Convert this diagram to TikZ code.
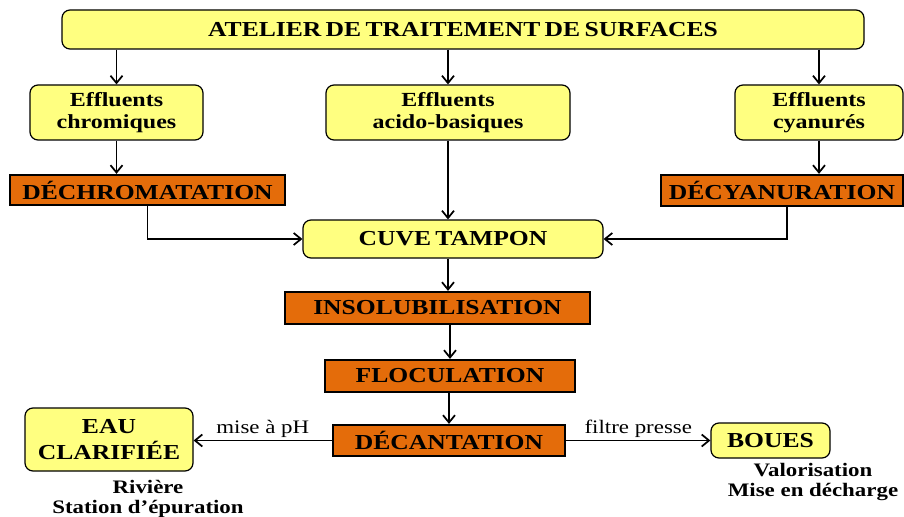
\documentclass[tikz,border=0pt]{standalone}
\usepackage{fontspec}
\setmainfont{Liberation Serif}[FakeStretch=1.2, Ligatures={TeX,NoCommon}]
\usepackage{xcolor}
\usepackage{tikz}
\usetikzlibrary{arrows.meta,positioning,calc}

\definecolor{jaune}{HTML}{FFFF80}
\definecolor{orange}{HTML}{E46C0A}

\newcommand{\grand}{\bfseries\fontsize{16}{19}\selectfont\spaceskip=.2em\relax}
\newcommand{\petit}{\bfseries\fontsize{15}{17}\selectfont}

\tikzset{
  jbox/.style={draw, rounded corners=6pt, fill=jaune, line width=0.9pt, inner sep=0pt, align=center, font=\petit},
  obox/.style={draw, fill=orange, line width=1.7pt, inner sep=0pt, align=center, font=\grand},
  fleche/.style={line width=1.3pt, -{Straight Barb[length=5.5pt,width=9pt]}},
  note/.style={align=center, font=\bfseries\fontsize{14.3}{15.5}\selectfont},
  etiq/.style={font=\fontsize{14.3}{16}\selectfont, inner sep=1.5pt}
}

\begin{document}
\begin{tikzpicture}[x=0.75pt, y=-0.75pt]
    \useasboundingbox (0,0) rectangle (904,517);

    % atelier
    \node[jbox, font=\grand, minimum width=601.5pt, minimum height=29.25pt] (atelier) at (463,29.5) {ATELIER DE TRAITEMENT DE SURFACES};

    % effluents
    \node[jbox, minimum width=129.75pt, minimum height=41.25pt] (chrom) at (116.5,112.5) {Effluents\\chromiques};
    \node[jbox, minimum width=183pt, minimum height=41.25pt] (acido) at (448,112.5) {Effluents\\acido-basiques};
    \node[jbox, minimum width=126pt, minimum height=41.25pt] (cyan) at (819,112.5) {Effluents\\cyanurés};

    % pretraitements
    \node[obox, minimum width=206.25pt, minimum height=22.5pt] (dechrom) at (147.5,190) {DÉCHROMATATION};
    \node[obox, minimum width=181.5pt, minimum height=23.25pt] (decyan) at (782,190.5) {DÉCYANURATION};

    % chaine principale
    \node[jbox, font=\grand, minimum width=225pt, minimum height=28.5pt] (cuve) at (453,239) {CUVE TAMPON};
    \node[obox, minimum width=228.75pt, minimum height=24pt] (insol) at (437.5,308) {INSOLUBILISATION};
    \node[obox, minimum width=187.5pt, minimum height=24pt] (floc) at (450,376) {FLOCULATION};
    \node[obox, minimum width=174pt, minimum height=23.25pt] (decant) at (449,440.5) {DÉCANTATION};

    % sorties
    \node[jbox, font=\bfseries\fontsize{16}{20}\selectfont, minimum width=126pt, minimum height=47.25pt] (eau) at (109,439.5) {EAU\\CLARIFIÉE};
    \node[jbox, font=\grand, minimum width=89.25pt, minimum height=26.25pt] (boues) at (770.5,440.5) {BOUES};
    \node[note] (riviere) at (148,499) {Rivière\\Station d’épuration};
    \node[note] (valo) at (813,482) {Valorisation\\Mise en décharge};

    % arrows from atelier
    \draw[fleche] (chrom.north |- atelier.south) -- (chrom.north);
    \draw[fleche] (acido.north |- atelier.south) -- (acido.north);
    \draw[fleche] (cyan.north |- atelier.south) -- (cyan.north);

    \draw[fleche] (chrom.south) -- (chrom.south |- dechrom.north);
    \draw[fleche] (cyan.south) -- (cyan.south |- decyan.north);
    \draw[fleche] (acido.south) -- (acido.south |- cuve.north);

    % towards cuve tampon
    \draw[fleche] (dechrom.south) |- (cuve.west);
    \draw[fleche] ([xshift=3.75pt]decyan.south) |- (cuve.east);

    \draw[fleche] (cuve.south -| acido.south) -- (acido.south |- insol.north);
    \draw[fleche] (insol.south -| floc.north) -- (floc.north);
    \draw[fleche] (floc.south -| decant.north) -- (decant.north);

    % sorties
    \draw[fleche] (decant.west) -- (decant.west -| eau.east) node[etiq, midway, above] {mise à pH};
    \draw[fleche] (decant.east) -- (decant.east -| boues.west) node[etiq, midway, above] {filtre presse};
\end{tikzpicture}
\end{document}
